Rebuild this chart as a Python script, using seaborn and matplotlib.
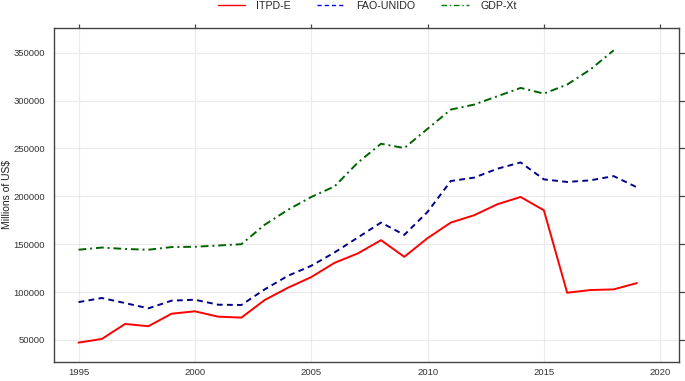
import numpy as np
import pandas as pd
import matplotlib
matplotlib.use("Agg")
import matplotlib.pyplot as plt
import seaborn as sns

years = list(range(1995, 2020))
itpd_e = [47200, 51000, 66700, 64300, 77400, 79900, 74300, 73300, 91700,
          104500, 115600, 130500, 140300, 154200, 136800, 156300, 172600,
          180200, 191700, 199300, 185400, 99300, 102100, 102800, 109400]
fao_unido = [89500, 93800, 88500, 83000, 91000, 92000, 86800, 86500, 102800,
             117000, 127400, 141300, 156900, 172600, 159700, 183700, 216000,
             219500, 228800, 235400, 217700, 215000, 216700, 221100, 209400]
gdp_xt = [144200, 146500, 145000, 144200, 147000, 147300, 148600, 150000,
          170300, 185900, 199300, 210300, 235100, 254900, 250400, 270500,
          290600, 295800, 304500, 313200, 307300, 316700, 332500, 352500, np.nan]

series_names = ["ITPD-E", "FAO-UNIDO", "GDP-Xt"]
colors = {"ITPD-E": "#ff0000", "FAO-UNIDO": "#00008b", "GDP-Xt": "#006400"}
dashes = {"ITPD-E": "", "FAO-UNIDO": (3, 2.2), "GDP-Xt": (4, 2, 1, 2)}

df = pd.DataFrame({
    "year": years * 3,
    "value": itpd_e + fao_unido + gdp_xt,
    "source": sum([[n] * len(years) for n in series_names], []),
}).dropna()

sns.set_style("white")
plt.rcParams["font.family"] = ["Liberation Sans", "DejaVu Sans"]

fig = plt.figure(figsize=(6.85, 3.81), dpi=100)
ax = fig.add_axes([0.079, 0.05, 0.912, 0.877])

sns.lineplot(data=df, x="year", y="value", hue="source", style="source",
             palette=colors, dashes=dashes, hue_order=series_names,
             style_order=series_names, linewidth=1.4, ax=ax, legend=False)

ax.set_xlim(1993.95, 2020.8)
ax.set_ylim(27000, 376000)
ax.set_xticks([1995, 2000, 2005, 2010, 2015, 2020])
ax.set_yticks([50000, 100000, 150000, 200000, 250000, 300000, 350000])
ax.grid(True, color="#ebebeb", linewidth=0.9)
ax.set_axisbelow(True)
ax.set_xlabel("")
ax.set_ylabel("Millions of US$", fontsize=7.5, color="#222222")
ax.yaxis.set_label_coords(-0.067, 0.5)

for sp in ax.spines.values():
    sp.set_color("#444444")
    sp.set_linewidth(1.0)
ax.tick_params(axis="both", which="both", direction="out", length=4,
               width=0.9, color="#444444", labelsize=6.8,
               labelcolor="#333333", top=True, right=True,
               labeltop=False, labelright=False, pad=2.5)
ax.tick_params(axis="x", length=3, pad=1.5)

legend_colors = {"ITPD-E": "#ff0000", "FAO-UNIDO": "#0000ff", "GDP-Xt": "#008000"}
handles = []
for n in series_names:
    h, = ax.plot([], [], color=legend_colors[n], linewidth=1.0,
                 linestyle=(0, dashes[n]) if dashes[n] else "-")
    handles.append(h)
fig.legend(handles, series_names, loc="upper center", ncol=3, frameon=False,
           bbox_to_anchor=(0.536, 1.0), borderaxespad=0.0, borderpad=0.1,
           fontsize=7.7, handlelength=2.6, columnspacing=2.45,
           handletextpad=1.03)

fig.savefig("out.png", dpi=100)
